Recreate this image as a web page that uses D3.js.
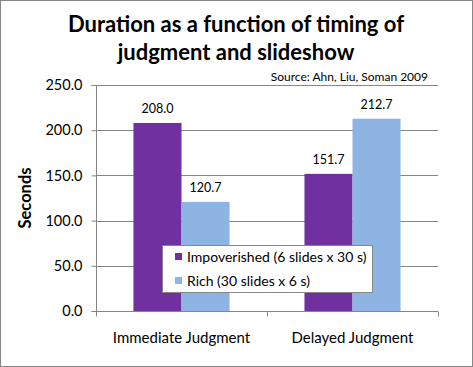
<!DOCTYPE html>
<html>
<head>
<meta charset="utf-8">
<script src="https://cdn.jsdelivr.net/npm/d3@7"></script>
<style>
  body { margin: 0; background: #fff; }
  text { font-family: Lato, "Open Sans", sans-serif; }
</style>
</head>
<body>
<div id="chart"></div>
<script>
var categories = ["Immediate Judgment", "Delayed Judgment"];
var seriesNames = ["Impoverished (6 slides x 30 s)", "Rich (30 slides x 6 s)"];
var impoverished = [208.0, 151.7];
var rich = [120.7, 212.7];
var yTicks = [0, 50, 100, 150, 200, 250];
var colors = ["#7030A0", "#8DB4E2"];

var width = 473, height = 367;
var pLeft = 96, pRight = 438, pTop = 85, pBottom = 311;

var svg = d3.select("#chart").append("svg")
    .attr("width", width)
    .attr("height", height);

// outer frame
svg.append("rect")
    .attr("x", 0.5).attr("y", 0.5)
    .attr("width", width - 1).attr("height", height - 1)
    .attr("fill", "#fff")
    .attr("stroke", "#878787");

var x = d3.scaleBand().domain(categories).range([pLeft, pRight]);
var xs = d3.scaleBand().domain([0, 1]).range([0, x.bandwidth()]).paddingOuter(0.78);
var y = d3.scaleLinear().domain([0, 250]).range([pBottom, pTop]);

// gridlines
svg.append("g").selectAll("line")
    .data(yTicks)
    .enter().append("line")
    .attr("x1", pLeft).attr("x2", pRight)
    .attr("y1", function (d) { return Math.round(y(d)) + 0.5; })
    .attr("y2", function (d) { return Math.round(y(d)) + 0.5; })
    .attr("stroke", "#868686");

// bars
var rows = categories.map(function (c, i) {
    return [{ cat: c, s: 0, v: impoverished[i] }, { cat: c, s: 1, v: rich[i] }];
});
var flat = [].concat.apply([], rows);

svg.append("g").selectAll("rect")
    .data(flat)
    .enter().append("rect")
    .attr("x", function (d) { return x(d.cat) + xs(d.s); })
    .attr("y", function (d) { return y(d.v); })
    .attr("width", xs.bandwidth())
    .attr("height", function (d) { return y(0) - y(d.v); })
    .attr("fill", function (d) { return colors[d.s]; });

// value labels
svg.append("g").selectAll("text")
    .data(flat)
    .enter().append("text")
    .attr("x", function (d) { return x(d.cat) + xs(d.s) + xs.bandwidth() / 2; })
    .attr("y", function (d) { return y(d.v) - 10; })
    .attr("text-anchor", "middle")
    .attr("font-size", "12.5px")
    .attr("fill", "#000")
    .text(function (d) { return d.v.toFixed(1); });

// y axis
var yAxis = svg.append("g")
    .attr("transform", "translate(" + (pLeft + 0.5) + ",0)")
    .call(d3.axisLeft(y).tickValues(yTicks).tickSize(5).tickPadding(9)
        .tickFormat(function (d) { return d.toFixed(1); }));
yAxis.select(".domain").attr("stroke", "#868686").attr("d", "M-5," + (pBottom + 0.5) + "H0V" + (pTop + 0.5) + "H-5");
yAxis.selectAll(".tick line").attr("stroke", "#868686");
yAxis.selectAll(".tick text").attr("font-size", "14.5px").attr("fill", "#000")
    .style("font-family", "Lato, sans-serif");

// x axis
var xAxis = svg.append("g")
    .attr("transform", "translate(0," + (pBottom + 0.5) + ")");
xAxis.append("line")
    .attr("x1", pLeft).attr("x2", pRight)
    .attr("stroke", "#868686");
xAxis.selectAll(".tk")
    .data([pLeft, pLeft + x.bandwidth(), pRight])
    .enter().append("line")
    .attr("x1", function (d) { return Math.round(d) + 0.5; })
    .attr("x2", function (d) { return Math.round(d) + 0.5; })
    .attr("y1", 0).attr("y2", 5)
    .attr("stroke", "#868686");
xAxis.selectAll(".cat")
    .data(categories)
    .enter().append("text")
    .attr("x", function (d) { return x(d) + x.bandwidth() / 2; })
    .attr("y", 31)
    .attr("text-anchor", "middle")
    .attr("font-size", "15px")
    .attr("fill", "#000")
    .text(function (d) { return d; });

// y label
svg.append("text")
    .attr("transform", "translate(31,198) rotate(-90)")
    .attr("text-anchor", "middle")
    .attr("font-size", "16.5px")
    .attr("font-weight", "bold")
    .text("Seconds");

// title
var title = svg.append("text")
    .attr("text-anchor", "middle")
    .attr("font-size", "22px")
    .attr("font-weight", "bold");
title.append("tspan").attr("x", 236).attr("y", 32).text("Duration as a function of timing of");
title.append("tspan").attr("x", 236).attr("y", 60).text("judgment and slideshow");

// source
svg.append("text")
    .attr("x", 428).attr("y", 81)
    .attr("text-anchor", "end")
    .attr("font-size", "12px")
    .text("Source:  Ahn, Liu, Soman 2009");

// legend
var lg = svg.append("g").attr("transform", "translate(162,245)");
lg.append("rect")
    .attr("x", 0.5).attr("y", 0.5)
    .attr("width", 210).attr("height", 47)
    .attr("fill", "#fff")
    .attr("stroke", "#878787");
var items = lg.selectAll(".item")
    .data(seriesNames)
    .enter().append("g")
    .attr("transform", function (d, i) { return "translate(13," + (8 + i * 24) + ")"; });
items.append("rect")
    .attr("x", 0).attr("y", 0)
    .attr("width", 7).attr("height", 7)
    .attr("fill", function (d, i) { return colors[i]; });
items.append("text")
    .attr("x", 12).attr("y", 9)
    .attr("font-size", "14px")
    .text(function (d) { return d; });
</script>
</body>
</html>
